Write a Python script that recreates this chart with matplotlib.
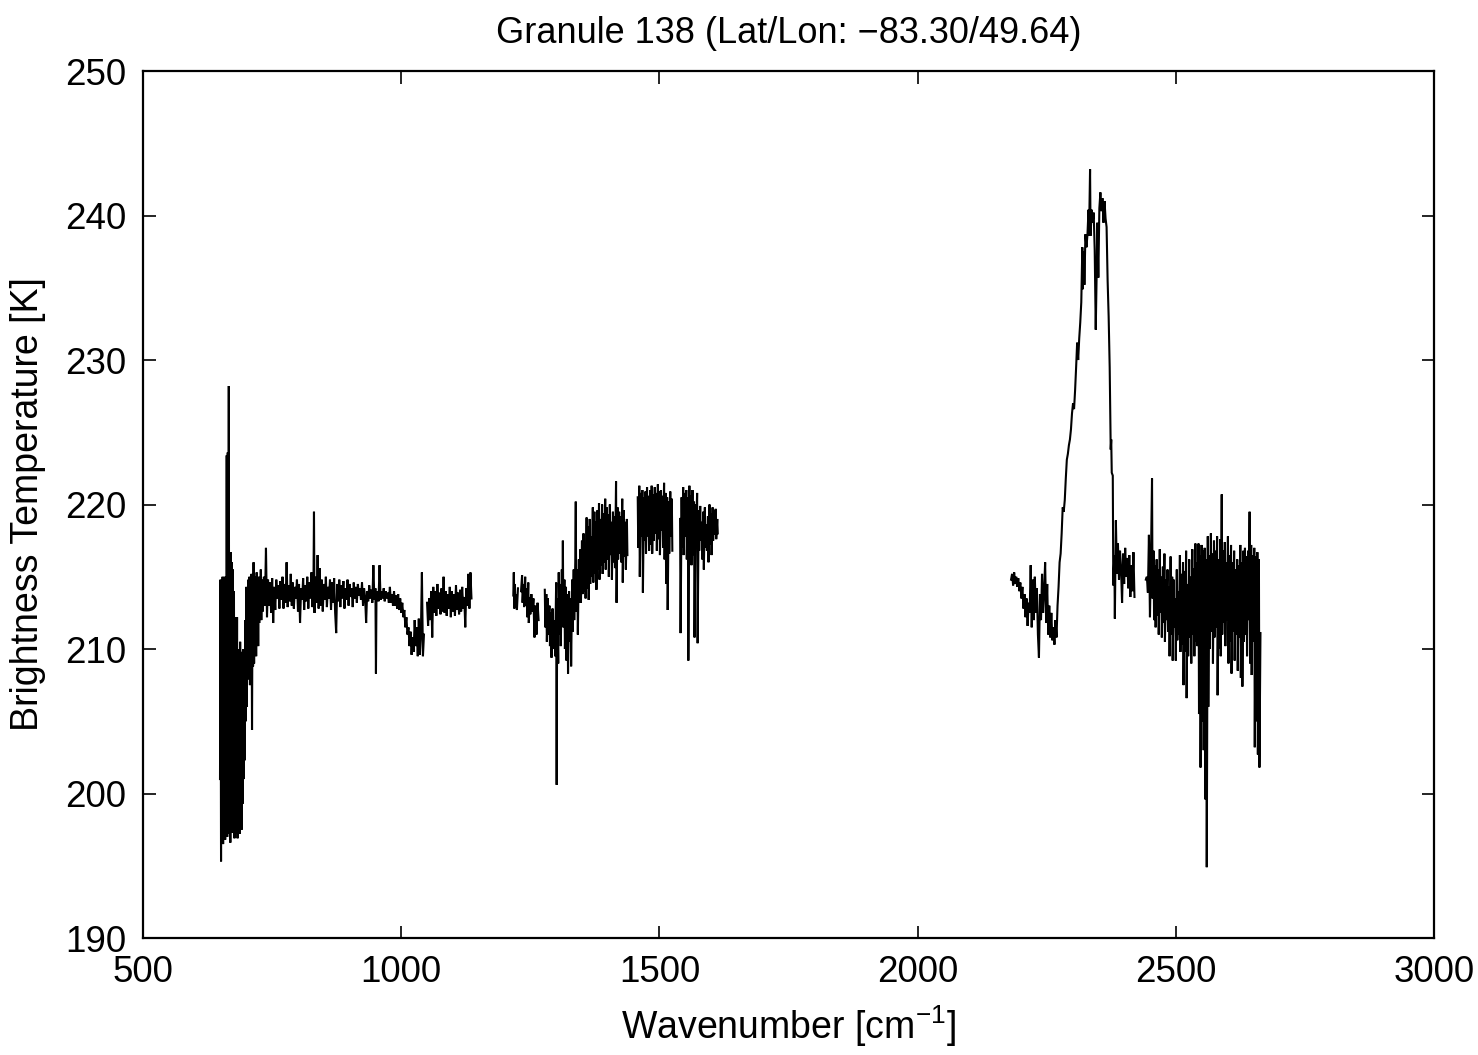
"""
Brightness temperature spectrum for one granule (AIRS-like bands).
Output: out.png
"""

import numpy as np
import matplotlib
matplotlib.use("Agg")
import matplotlib.pyplot as plt

# ── Data (wavenumber cm^-1, brightness temperature K) ──
# long-wave band, up to the small gap near 1045
lw_a = [
    (649, 201.0), (650, 214.8), (651, 195.3), (652, 214.6), (653, 198.0), (654, 215.0),
    (655, 196.5), (656, 214.2), (657, 197.2), (658, 215.0), (659, 196.8), (660, 213.0),
    (661, 197.5), (662, 223.4), (663, 197.0), (664, 223.6), (665, 199.0), (666, 228.2),
    (667, 197.2), (668, 216.3), (669, 196.6), (670, 216.7), (671, 197.5), (672, 216.0),
    (673, 197.3), (674, 215.5), (675, 198.5), (676, 214.0), (677, 196.9), (678, 212.2),
    (679, 197.2), (680, 211.5), (681, 197.8), (682, 212.2), (683, 196.9), (684, 210.0),
    (685, 198.5), (686, 209.8), (687, 197.2), (688, 210.5), (689, 199.0), (690, 209.8),
    (691, 197.5), (692, 209.5), (693, 199.3), (694, 210.0), (695, 201.0), (696, 209.8),
    (697, 202.3), (698, 212.0), (699, 205.0), (700, 214.3), (701, 206.0), (702, 213.5),
    (703, 207.9), (704, 214.8), (705, 208.5), (706, 215.0), (707, 207.5), (708, 214.5),
    (709, 209.6), (710, 215.2), (711, 204.4), (712, 214.0), (713, 208.8), (714, 216.0),
    (715, 209.0), (716, 215.0), (717, 210.4), (718, 214.6), (719, 209.5), (720, 215.3),
    (721, 211.0), (722, 214.8), (723, 210.2), (724, 215.0), (725, 211.8), (726, 214.5),
    (727, 212.2), (728, 215.5), (729, 212.0), (730, 214.8), (732, 212.6), (734, 215.0),
    (736, 213.0), (738, 217.0), (740, 212.2), (742, 214.8), (744, 213.0), (746, 214.6),
    (748, 212.5), (750, 214.9), (752, 211.8), (754, 214.3), (756, 212.7), (758, 214.8),
    (760, 213.5), (762, 214.4), (764, 212.8), (766, 214.7), (768, 213.4), (770, 215.0),
    (772, 212.8), (774, 214.5), (776, 213.2), (778, 216.0), (780, 212.9), (782, 214.4),
    (784, 213.3), (786, 215.2), (788, 213.0), (790, 214.6), (792, 212.8), (794, 214.3),
    (796, 213.5), (798, 214.8), (800, 212.6), (802, 214.5), (804, 211.8), (806, 214.2),
    (808, 213.4), (810, 214.9), (812, 212.7), (814, 214.4), (816, 213.3), (818, 215.0),
    (820, 212.8), (822, 214.6), (824, 213.5), (826, 215.3), (828, 212.9), (830, 214.5),
    (831, 219.5), (832, 212.5), (834, 215.0), (836, 213.2), (838, 216.5), (840, 212.8),
    (842, 215.6), (844, 213.0), (846, 214.8), (848, 212.6), (850, 214.5), (852, 213.4),
    (854, 215.0), (856, 212.9), (858, 214.3), (860, 213.5), (862, 214.8), (864, 212.7),
    (866, 214.6), (868, 213.2), (870, 214.9), (872, 212.5), (874, 211.1), (876, 214.5),
    (878, 213.3), (880, 214.8), (882, 212.9), (884, 214.4), (886, 213.5), (888, 214.7),
    (890, 212.8), (892, 214.2), (894, 213.4), (896, 214.8), (898, 213.0), (900, 214.5),
    (902, 213.6), (904, 214.2), (906, 212.9), (908, 214.6), (910, 213.5), (912, 214.3),
    (914, 213.2), (916, 214.5), (918, 213.7), (920, 214.2), (922, 213.4), (924, 214.6),
    (926, 213.0), (928, 214.2), (930, 213.6), (932, 211.8), (934, 214.0), (936, 213.3),
    (938, 214.4), (940, 213.5), (942, 214.1), (944, 213.2), (946, 215.8), (948, 213.4),
    (950, 214.2), (951, 208.3), (952, 213.5), (954, 214.0), (956, 213.3), (958, 215.8),
    (960, 213.4), (962, 214.0), (964, 213.5), (966, 214.2), (968, 213.3), (970, 214.0),
    (972, 213.5), (974, 213.9), (976, 213.2), (978, 214.3), (980, 213.2), (982, 213.8),
    (984, 213.0), (986, 214.0), (988, 213.0), (990, 213.7), (992, 212.8), (994, 213.8),
    (996, 212.7), (998, 213.5), (1000, 212.5), (1002, 213.2), (1004, 212.2), (1006, 212.7),
    (1008, 211.5), (1010, 212.2), (1012, 211.0), (1014, 211.5), (1016, 210.2), (1018, 211.2),
    (1020, 209.6), (1022, 210.8), (1024, 209.8), (1026, 212.0), (1028, 210.2), (1030, 211.5),
    (1032, 209.5), (1034, 212.1), (1036, 209.6), (1038, 211.0), (1040, 215.3), (1042, 209.5),
    (1044, 211.0),
]
# long-wave band, rest
lw_b = [
    (1050, 213.2), (1052, 211.6), (1054, 213.5), (1056, 212.0), (1058, 214.0), (1060, 210.8),
    (1062, 214.3), (1064, 212.5), (1066, 214.0), (1068, 212.3), (1070, 214.5), (1072, 212.8),
    (1074, 213.9), (1076, 212.4), (1078, 214.2), (1080, 212.6), (1082, 215.0), (1084, 212.5),
    (1086, 214.0), (1088, 212.3), (1090, 213.8), (1092, 212.8), (1094, 214.3), (1096, 212.2),
    (1098, 214.0), (1100, 212.6), (1102, 213.8), (1104, 212.3), (1106, 214.4), (1108, 212.7),
    (1110, 213.9), (1112, 212.4), (1114, 214.1), (1116, 212.6), (1118, 214.3), (1120, 212.8),
    (1122, 213.6), (1124, 211.5), (1126, 214.2), (1128, 213.0), (1130, 215.2), (1132, 212.8),
    (1134, 215.3), (1136, 213.5),
]

# mid-wave band pieces
mw_a = [
    (1217, 213.7), (1218, 215.3), (1219, 212.8), (1220, 214.5), (1221, 213.2), (1222, 213.8),
    (1224, 212.7), (1226, 214.2),
]
mw_b = [
    (1232, 214.0), (1234, 215.1), (1235, 213.2), (1237, 214.5), (1238, 212.9), (1240, 215.0),
    (1241, 213.0), (1243, 214.2), (1244, 212.2), (1246, 214.6), (1247, 211.8), (1249, 213.6),
    (1250, 212.4), (1252, 213.8), (1254, 212.6), (1256, 213.5), (1258, 210.8), (1260, 213.0),
    (1262, 211.0), (1264, 213.2), (1266, 212.0),
]
mw_c = [
    (1278, 214.1), (1279, 211.5), (1281, 213.8), (1282, 210.5), (1284, 213.5), (1285, 211.0),
    (1287, 213.0), (1288, 210.2), (1290, 212.5), (1291, 209.4), (1293, 212.8), (1295, 210.0),
    (1297, 212.0), (1298, 209.5), (1300, 214.6), (1301, 200.6), (1302, 213.5), (1304, 209.0),
    (1305, 215.3), (1306, 211.0), (1308, 214.5), (1309, 210.2), (1311, 215.5), (1312, 212.0),
    (1313, 217.5), (1314, 211.5), (1316, 214.8), (1317, 210.0), (1319, 214.3), (1320, 209.2),
    (1322, 213.8), (1323, 208.3), (1325, 214.0), (1326, 210.5), (1328, 213.5), (1329, 208.8),
    (1331, 214.8), (1332, 211.2), (1334, 215.5), (1335, 212.0), (1337, 216.0), (1338, 220.2),
    (1339, 212.6), (1341, 215.5), (1342, 211.0), (1344, 216.2), (1345, 213.2), (1347, 216.9),
    (1348, 213.2), (1350, 217.5), (1351, 213.8), (1353, 218.0), (1354, 214.0), (1356, 217.2),
    (1357, 213.5), (1359, 219.1), (1360, 214.2), (1362, 218.5), (1363, 213.4), (1365, 219.0),
    (1366, 214.5), (1368, 217.8), (1369, 215.0), (1371, 219.8), (1372, 214.6), (1374, 219.5),
    (1375, 215.2), (1377, 218.8), (1378, 214.1), (1380, 219.6), (1381, 215.5), (1383, 220.1),
    (1384, 214.8), (1386, 219.0), (1387, 215.8), (1389, 220.0), (1390, 215.2), (1392, 219.4),
    (1393, 216.0), (1395, 220.4), (1396, 215.5), (1398, 219.8), (1399, 216.2), (1401, 219.3),
    (1402, 215.0), (1404, 220.0), (1405, 216.5), (1407, 218.8), (1408, 214.8), (1410, 219.5),
    (1411, 216.0), (1413, 219.2), (1414, 215.6), (1416, 221.6), (1417, 213.2), (1419, 219.8),
    (1420, 216.2), (1422, 219.5), (1423, 216.6), (1425, 219.2), (1426, 216.0), (1428, 220.4),
    (1429, 214.6), (1431, 219.6), (1432, 216.4), (1434, 218.8), (1435, 215.5), (1437, 219.0),
    (1438, 216.5),
]
mw_d = [
    (1458, 220.5), (1459, 217.0), (1461, 221.3), (1462, 215.0), (1464, 220.8), (1465, 217.8),
    (1467, 221.0), (1468, 213.9), (1470, 220.5), (1471, 217.5), (1473, 220.9), (1474, 216.6),
    (1476, 221.2), (1477, 217.8), (1479, 220.6), (1480, 216.8), (1482, 221.0), (1483, 217.2),
    (1485, 221.3), (1486, 216.6), (1488, 220.7), (1489, 217.5), (1491, 221.2), (1492, 218.0),
    (1494, 220.8), (1495, 216.8), (1497, 221.4), (1498, 217.6), (1500, 220.9), (1501, 216.5),
    (1503, 221.0), (1504, 218.2), (1506, 220.6), (1507, 217.0), (1509, 221.5), (1510, 216.2),
    (1512, 220.8), (1513, 214.5), (1515, 220.5), (1516, 212.7), (1518, 220.2), (1519, 216.6),
    (1521, 220.9), (1522, 217.8), (1524, 220.4), (1525, 216.8),
]
mw_e = [
    (1540, 219.0), (1541, 211.1), (1543, 220.5), (1544, 217.0), (1546, 221.2), (1547, 216.5),
    (1549, 220.8), (1550, 217.8), (1552, 221.0), (1553, 216.2), (1555, 220.5), (1556, 209.2),
    (1558, 221.3), (1559, 217.0), (1561, 220.6), (1562, 215.8), (1564, 221.0), (1565, 216.5),
    (1567, 220.2), (1568, 210.8), (1570, 220.0), (1571, 217.8), (1573, 220.8), (1574, 210.4),
    (1576, 219.6), (1577, 216.8), (1579, 219.9), (1580, 217.5), (1582, 218.8), (1583, 216.2),
    (1585, 219.5), (1586, 215.5), (1588, 219.8), (1589, 217.0), (1591, 218.6), (1592, 216.8),
    (1594, 219.2), (1595, 216.0), (1597, 220.0), (1598, 217.2), (1600, 219.4), (1601, 216.5),
    (1603, 219.8), (1604, 217.5), (1606, 219.6), (1607, 217.9), (1609, 219.7), (1610, 217.6),
    (1612, 219.0), (1613, 218.0),
]

# short-wave band, CO2 4.3 um region
sw_a = [
    (2181, 214.8), (2183, 215.2), (2185, 214.4), (2187, 215.3), (2189, 214.5), (2191, 215.0),
    (2193, 214.3), (2195, 214.9), (2197, 214.0), (2199, 214.6), (2201, 213.5), (2203, 214.3),
    (2205, 212.8), (2207, 213.8), (2209, 212.2), (2211, 213.5), (2213, 211.6), (2215, 213.2),
    (2217, 212.5), (2219, 215.8), (2221, 211.5), (2223, 214.8), (2225, 212.0), (2227, 215.0),
    (2229, 212.5), (2231, 214.2), (2233, 211.0), (2235, 209.4), (2237, 213.8), (2239, 212.0),
    (2241, 215.2), (2243, 212.5), (2245, 214.0), (2247, 216.0), (2249, 211.8), (2251, 214.5),
    (2253, 211.0), (2255, 213.0), (2257, 210.8), (2259, 212.5), (2261, 210.6), (2263, 211.5),
    (2265, 210.3), (2267, 212.0), (2269, 210.8), (2271, 213.0), (2273, 214.3), (2275, 216.0),
    (2277, 216.6), (2279, 218.0), (2281, 219.8), (2283, 219.5), (2285, 220.3), (2287, 221.8),
    (2289, 223.1), (2291, 223.5), (2293, 224.1), (2295, 224.5), (2297, 225.2), (2299, 226.3),
    (2301, 227.0), (2303, 226.6), (2305, 227.9), (2307, 229.5), (2309, 231.2), (2311, 230.0),
    (2313, 231.5), (2315, 232.6), (2317, 234.0), (2319, 237.8), (2320, 234.9), (2322, 237.5),
    (2323, 235.2), (2325, 238.7), (2327, 237.8), (2329, 238.7), (2331, 240.4), (2332, 238.6),
    (2334, 243.2), (2335, 238.6), (2337, 240.4), (2339, 239.5), (2341, 240.2), (2343, 237.6),
    (2345, 232.1), (2347, 236.5), (2348, 239.5), (2350, 235.7), (2352, 240.5), (2354, 241.6),
    (2356, 240.3), (2358, 241.2), (2360, 239.5), (2362, 241.0), (2364, 239.8), (2366, 239.2),
    (2368, 235.5), (2370, 233.0), (2372, 229.5), (2374, 223.8), (2375, 224.5), (2376, 222.2),
    (2378, 222.0), (2379, 214.4), (2381, 216.5), (2382, 212.1), (2384, 218.9), (2386, 215.2),
    (2388, 217.3), (2390, 214.8), (2392, 216.8), (2394, 215.5), (2396, 213.2), (2398, 216.6),
    (2400, 214.5), (2402, 217.0), (2404, 215.0), (2406, 216.3), (2408, 214.2), (2410, 216.5),
    (2412, 213.6), (2414, 215.8), (2416, 214.0), (2418, 216.7), (2420, 213.6),
]
sw_b = [
    (2442, 214.8), (2444, 215.0), (2446, 213.9), (2448, 217.9), (2450, 212.2), (2452, 216.5),
    (2454, 221.8), (2455, 213.5), (2457, 216.8), (2458, 212.0), (2460, 215.8), (2461, 211.5),
    (2463, 216.2), (2464, 212.3), (2466, 215.5), (2467, 211.0), (2469, 216.9), (2470, 212.5),
    (2472, 215.0), (2473, 210.8), (2475, 215.7), (2476, 211.8), (2478, 216.6), (2479, 210.5),
    (2481, 214.8), (2482, 212.0), (2484, 215.5), (2485, 211.2), (2487, 214.3), (2488, 209.5),
    (2490, 216.4), (2491, 211.0), (2493, 215.0), (2494, 209.2), (2496, 214.8), (2497, 211.5),
    (2499, 213.5), (2500, 209.2), (2502, 215.5), (2503, 210.6), (2505, 214.0), (2506, 211.0),
    (2508, 216.5), (2509, 209.8), (2511, 215.2), (2512, 210.3), (2514, 216.0), (2515, 207.5),
    (2517, 215.4), (2518, 209.8), (2520, 216.8), (2521, 206.6), (2523, 214.5), (2524, 209.5),
    (2526, 216.2), (2527, 210.8), (2529, 215.0), (2530, 209.0), (2532, 216.9), (2533, 211.0),
    (2535, 215.6), (2536, 209.5), (2538, 217.3), (2539, 210.5), (2541, 216.0), (2542, 210.2),
    (2544, 217.3), (2545, 205.5), (2547, 216.5), (2548, 201.8), (2550, 217.2), (2551, 205.0),
    (2553, 216.8), (2554, 203.0), (2556, 217.0), (2557, 199.6), (2559, 216.2), (2560, 194.9),
    (2562, 217.8), (2563, 206.0), (2565, 216.5), (2566, 210.0), (2568, 218.0), (2569, 211.2),
    (2571, 216.6), (2572, 209.0), (2574, 217.5), (2575, 210.8), (2577, 216.8), (2578, 211.5),
    (2580, 217.8), (2581, 206.8), (2583, 216.2), (2584, 210.0), (2586, 217.6), (2587, 209.5),
    (2589, 220.7), (2590, 211.0), (2592, 216.8), (2593, 211.8), (2595, 217.4), (2596, 210.2),
    (2598, 216.0), (2599, 212.0), (2601, 217.8), (2602, 209.0), (2604, 216.5), (2605, 210.5),
    (2607, 217.2), (2608, 208.3), (2610, 216.0), (2611, 211.2), (2613, 216.8), (2614, 209.2),
    (2616, 215.5), (2617, 211.0), (2619, 216.2), (2620, 208.5), (2622, 215.8), (2623, 210.8),
    (2625, 217.2), (2626, 208.0), (2628, 216.0), (2629, 207.4), (2631, 216.8), (2632, 210.5),
    (2634, 217.0), (2635, 211.0), (2637, 216.4), (2638, 209.5), (2640, 216.8), (2641, 212.0),
    (2643, 219.5), (2644, 209.0), (2646, 217.2), (2647, 208.2), (2649, 216.5), (2650, 210.5),
    (2652, 217.0), (2653, 203.2), (2655, 216.4), (2656, 205.0), (2658, 216.7), (2659, 202.7),
    (2661, 216.2), (2662, 201.8), (2664, 211.1),
]

pieces = [lw_a, lw_b, mw_a, mw_b, mw_c, mw_d, mw_e, sw_a, sw_b]

TITLE = "Granule 138 (Lat/Lon: \u221283.30/49.64)"
XTICKS = [500, 1000, 1500, 2000, 2500, 3000]
YTICKS = [190, 200, 210, 220, 230, 240, 250]

plt.rcParams["font.family"] = ["Liberation Sans", "DejaVu Sans"]
plt.rcParams["mathtext.fontset"] = "custom"
plt.rcParams["mathtext.rm"] = "Liberation Sans"
plt.rcParams["mathtext.it"] = "Liberation Sans"

fig = plt.figure(figsize=(14.78, 10.55), dpi=100)
ax = fig.add_axes([0.0968, 0.1109, 0.8734, 0.8218])

for p in pieces:
    arr = np.array(p, dtype=float)
    ax.plot(arr[:, 0], arr[:, 1], color="black", linewidth=1.5, solid_joinstyle="miter")

ax.set_xlim(500, 3000)
ax.set_ylim(190, 250)
ax.set_xticks(XTICKS)
ax.set_yticks(YTICKS)
ax.tick_params(direction="in", length=9, width=1.2, top=True, right=True,
               labelsize=26.5, pad=12)
for s in ax.spines.values():
    s.set_linewidth(1.6)

ax.set_xlabel(r"Wavenumber [cm$^{-1}$]", fontsize=27, labelpad=10)
ax.set_ylabel("Brightness Temperature [K]", fontsize=27, labelpad=14)
ax.set_title(TITLE, fontsize=26, pad=20)

fig.savefig("out.png", dpi=100)
